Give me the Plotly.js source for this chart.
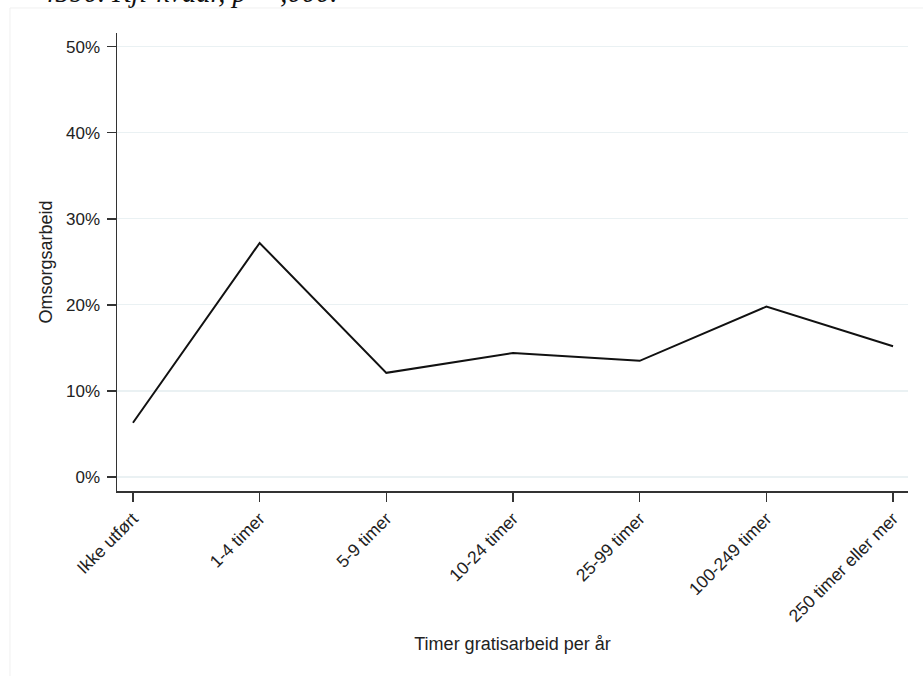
<!DOCTYPE html>
<html>
<head>
<meta charset="utf-8">
<script src="https://cdn.plot.ly/plotly-3.0.1.min.js"></script>
<style>html,body{margin:0;padding:0;background:#fff;}#chart{width:923px;height:676px;}</style>
</head>
<body>
<div id="chart"></div>
<script>
const categories = ["Ikke utført", "1-4 timer", "5-9 timer", "10-24 timer", "25-99 timer", "100-249 timer", "250 timer eller mer"];
const omsorgsarbeid = [0.063, 0.272, 0.121, 0.144, 0.135, 0.198, 0.152];
const yTickVals = [0, 0.1, 0.2, 0.3, 0.4, 0.5];
const yTickText = ["0%", "10%", "20%", "30%", "40%", "50%"];
const headerText = "4590. Kji-kvadr, p = ,000.";

const trace = {
  x: categories.map((c, i) => i),
  y: omsorgsarbeid,
  type: "scatter",
  mode: "lines",
  line: {color: "#111", width: 2},
  hoverinfo: "skip"
};

const layout = {
  width: 923, height: 676,
  margin: {l: 117, r: 15, t: 33, b: 185},
  paper_bgcolor: "#fff", plot_bgcolor: "#fff",
  showlegend: false,
  font: {family: "Liberation Sans, Arial, sans-serif", color: "#222", size: 17},
  xaxis: {
    range: [-0.126, 6.118],
    tickvals: categories.map((c, i) => i),
    ticktext: categories,
    tickangle: -45,
    ticks: "outside", ticklen: 9, tickwidth: 1.3, tickcolor: "#333",
    showline: true, linecolor: "#333", linewidth: 1.5,
    showgrid: false, zeroline: false,
    tickfont: {size: 17.5, color: "#222"},
    title: {text: "Timer gratisarbeid per år", font: {size: 18, color: "#222"}, standoff: 12}
  },
  yaxis: {
    range: [-0.0163, 0.516],
    tickvals: yTickVals, ticktext: yTickText,
    ticks: "outside", ticklen: 9, tickwidth: 1.3, tickcolor: "#333",
    showline: true, linecolor: "#333", linewidth: 1.5,
    showgrid: true, gridcolor: "#eaf1f3", gridwidth: 1.2,
    zeroline: false,
    tickfont: {size: 17, color: "#222"},
    ticklabelstandoff: 3,
    title: {text: "Omsorgsarbeid", font: {size: 18, color: "#222"}, standoff: 9}
  },
  shapes: [{
    type: "rect", xref: "paper", yref: "paper",
    x0: -0.1353, x1: 1.2, y0: -0.6, y1: 1.0546,
    line: {color: "#f0f0f0", width: 1}, fillcolor: "rgba(0,0,0,0)", layer: "below"
  }],
  annotations: [{
    text: headerText, xref: "paper", yref: "paper",
    x: -0.099, y: 1.05, xanchor: "left", yanchor: "bottom",
    showarrow: false,
    font: {family: "Liberation Serif, serif", size: 28.5, color: "#111", style: "italic"}
  }]
};

Plotly.newPlot("chart", [trace], layout, {displayModeBar: false, staticPlot: true});
</script>
</body>
</html>
